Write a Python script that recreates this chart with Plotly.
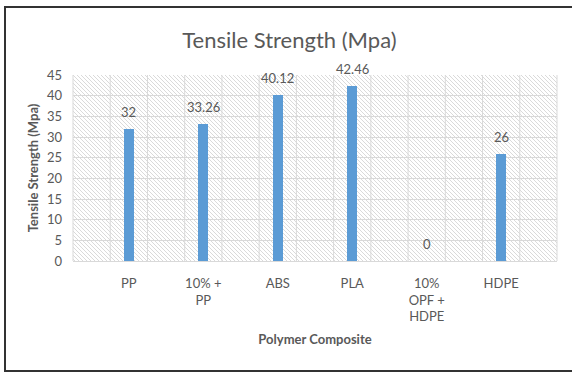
import base64
import plotly.graph_objects as go

# ---- data ----
categories = ["PP", "10% +<br>PP", "ABS", "PLA", "10%<br>OPF +<br>HDPE", "HDPE"]
tensile_strength = [32, 33.26, 40.12, 42.46, 0, 26]
y_ticks = [0, 5, 10, 15, 20, 25, 30, 35, 40, 45]

# ---- geometry ----
W, H = 572, 372
ML, MR, MT, MB = 73, 15, 75, 111
PW, PH = W - ML - MR, H - MT - MB

TEXT = "#595959"
GRID = "#D9D9D9"
BAR = "#5B9BD5"
FONT = "Lato"

# hatched plot-area fill (wide downward diagonal)
hatch_svg = (
    f'<svg xmlns="http://www.w3.org/2000/svg" width="{PW}" height="{PH}">'
    '<defs><pattern id="h" width="4" height="4" patternUnits="userSpaceOnUse">'
    '<path d="M-1,-1 L5,5 M-1,3 L1,5 M3,-1 L5,1" stroke="#d0d0d0" stroke-width="0.8"/>'
    '</pattern></defs><rect width="100%" height="100%" fill="url(#h)"/></svg>'
)
hatch_uri = "data:image/svg+xml;base64," + base64.b64encode(hatch_svg.encode()).decode()

fig = go.Figure(
    go.Bar(
        x=categories,
        y=tensile_strength,
        width=0.135,
        marker=dict(color=BAR, line=dict(width=0)),
        hoverinfo="x+y",
    )
)

# value labels above each bar
for c, v in zip(categories, tensile_strength):
    fig.add_annotation(
        x=c, y=v, text=f"{v:g}", showarrow=False, yanchor="bottom", yshift=7,
        font=dict(family=FONT, size=13, color=TEXT),
    )

# vertical grid: two columns per category plus a half column at each end
n_cols = 2 * len(categories) + 1
for k in range(n_cols + 1):
    fig.add_shape(
        type="line", xref="x domain", yref="y domain",
        x0=k / n_cols, x1=k / n_cols, y0=0, y1=1,
        line=dict(color=GRID, width=1), layer="below",
    )

# outer chart border
def px_x(p):
    return (p - ML) / PW

def px_y(p):
    return (H - MB - p) / PH

fig.add_shape(
    type="rect", xref="paper", yref="paper",
    x0=px_x(5), x1=px_x(576), y0=px_y(371), y1=px_y(7),
    line=dict(color="#333333", width=2), fillcolor="rgba(0,0,0,0)",
)

fig.add_layout_image(
    source=hatch_uri, xref="paper", yref="paper", x=0, y=1, sizex=1, sizey=1,
    xanchor="left", yanchor="top", sizing="stretch", layer="below",
)

half = 0.75
fig.update_layout(
    width=W, height=H,
    margin=dict(l=ML, r=MR, t=MT, b=MB),
    paper_bgcolor="white",
    plot_bgcolor="rgba(0,0,0,0)",
    showlegend=False,
    bargap=0,
    title=dict(
        text="Tensile Strength (Mpa)",
        x=0.506, xref="container", xanchor="center",
        y=1 - 40 / H, yref="container", yanchor="middle",
        font=dict(family=FONT, size=22, color=TEXT),
    ),
    xaxis=dict(
        type="category",
        range=[-half, len(categories) - 1 + half],
        showgrid=False,
        showline=True, linecolor=GRID, linewidth=1,
        ticks="", ticklabelstandoff=10,
        tickfont=dict(family=FONT, size=13, color=TEXT),
        title=dict(text="Polymer Composite", standoff=11,
                   font=dict(family=FONT, size=13, color=TEXT, weight="bold")),
        fixedrange=True,
    ),
    yaxis=dict(
        range=[0, 45],
        tickvals=y_ticks,
        showgrid=True, gridcolor=GRID, gridwidth=1,
        zeroline=False, showline=False,
        ticks="", ticklabelstandoff=10,
        tickfont=dict(family=FONT, size=13, color=TEXT),
        title=dict(text="Tensile Strength (Mpa)", standoff=5,
                   font=dict(family=FONT, size=13, color=TEXT, weight="bold")),
        fixedrange=True,
    ),
)

fig.write_html("out.html")
